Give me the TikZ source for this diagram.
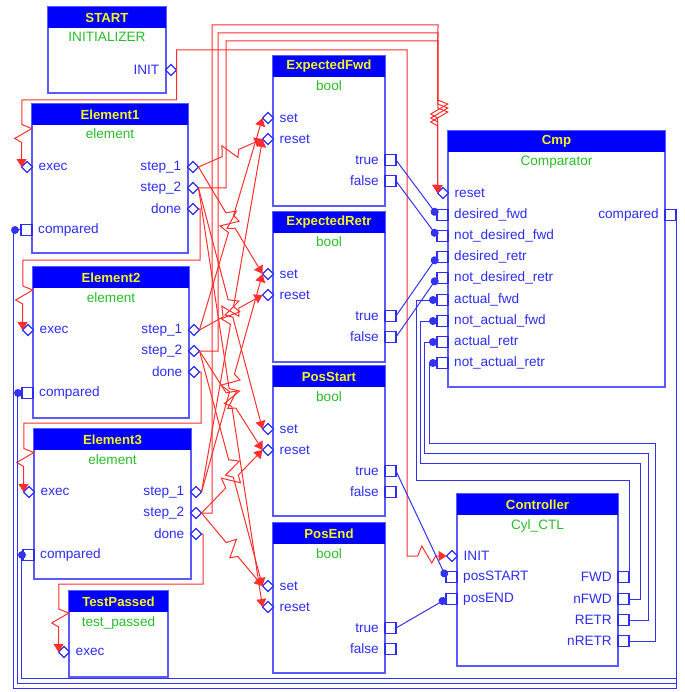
\documentclass[tikz,border=0pt]{standalone}
\usepackage{fontspec}
\setmainfont{Liberation Sans}
\usetikzlibrary{shapes.geometric, arrows.meta, positioning, calc}

\definecolor{hdrblue}{RGB}{0,0,255}
\definecolor{boxblue}{RGB}{90,90,255}
\definecolor{txtblue}{RGB}{45,45,245}
\definecolor{typgreen}{RGB}{40,190,40}
\definecolor{hdryellow}{RGB}{245,245,30}
\definecolor{evred}{RGB}{255,45,45}
\definecolor{wireblue}{RGB}{50,50,240}

\newcommand{\fbfont}{\fontsize{13.6}{15}\selectfont}

\begin{document}
\begin{tikzpicture}[
        x=1pt, y=-1pt,
        fbbody/.style={rectangle, draw=boxblue, line width=1.4pt, fill=white, anchor=north west, inner sep=0pt, outer sep=0pt},
        fbhead/.style={rectangle, fill=hdrblue, anchor=north west, minimum height=21pt, inner sep=0pt, outer sep=0pt, text=hdryellow, font=\fontsize{13.2}{15}\selectfont\bfseries},
        fbtype/.style={text=typgreen, font=\fbfont, inner sep=0pt, anchor=base},
        lbl/.style={text=txtblue, font=\fbfont, inner sep=0pt},
        evport/.style={diamond, draw=txtblue, fill=white, line width=1.2pt, minimum width=11pt, minimum height=11pt, inner sep=0pt, outer sep=0pt},
        dtport/.style={rectangle, draw=txtblue, fill=white, line width=1.2pt, minimum size=11pt, inner sep=0pt, outer sep=0pt},
        ev/.style={draw=evred, line width=1pt, -{Triangle[length=8pt, width=10pt]}},
        dat/.style={draw=wireblue, line width=1pt},
        datin/.style={dat, -{Circle[length=8pt]}},
        bolt/.style={to path={
            -- ($(\tikztostart)!0.5!(\tikztotarget)!9pt!(\tikztostart)$)
            -- ($(\tikztostart)!0.5!(\tikztotarget)!5pt!(\tikztostart)!10pt!-90:(\tikztostart)$)
            -- ($(\tikztostart)!0.5!(\tikztotarget)!5pt!(\tikztotarget)!7pt!-90:(\tikztotarget)$)
            -- ($(\tikztostart)!0.5!(\tikztotarget)!9pt!(\tikztotarget)$)
            -- (\tikztotarget) \tikztonodes}},
    ]
    \useasboundingbox (0,0) rectangle (684,692);

    % START
    \node[fbbody, minimum width=118pt, minimum height=86pt] (st) at (48,7) {};
    \node[fbhead, minimum width=118pt] (sth) at (st.north west) {START};
    \node[fbtype] (stt) at ($(sth.south)+(0,14)$) {INITIALIZER};
    \node[evport] (sInit) at (171,70) {};
    \node[lbl, left=6pt of sInit] (sInitl) {INIT};

    % Element1
    \node[fbbody, minimum width=156pt, minimum height=149pt] (e1) at (32,104) {};
    \node[fbhead, minimum width=156pt] (e1h) at (e1.north west) {Element1};
    \node[fbtype] (e1t) at ($(e1h.south)+(0,14)$) {element};
    \node[evport] (e1x) at (27,167) {};
    \node[evport] (e1s1) at (193,167) {};
    \node[evport] (e1s2) at (193,188) {};
    \node[evport] (e1d) at (193,209) {};
    \node[dtport] (e1c) at (26.5,230) {};
    \node[lbl, right=6pt of e1x] (e1xl) {exec};
    \node[lbl, left=6pt of e1s1] (e1s1l) {step\_1};
    \node[lbl, left=6pt of e1s2] (e1s2l) {step\_2};
    \node[lbl, left=6pt of e1d] (e1dl) {done};
    \node[lbl, right=6pt of e1c] (e1cl) {compared};

    % Element2
    \node[fbbody, minimum width=156pt, minimum height=151pt] (e2) at (33,267) {};
    \node[fbhead, minimum width=156pt] (e2h) at (e2.north west) {Element2};
    \node[fbtype] (e2t) at ($(e2h.south)+(0,14)$) {element};
    \node[evport] (e2x) at (28,330) {};
    \node[evport] (e2s1) at (194,330) {};
    \node[evport] (e2s2) at (194,351) {};
    \node[evport] (e2d) at (194,372) {};
    \node[dtport] (e2c) at (27.5,393) {};
    \node[lbl, right=6pt of e2x] (e2xl) {exec};
    \node[lbl, left=6pt of e2s1] (e2s1l) {step\_1};
    \node[lbl, left=6pt of e2s2] (e2s2l) {step\_2};
    \node[lbl, left=6pt of e2d] (e2dl) {done};
    \node[lbl, right=6pt of e2c] (e2cl) {compared};

    % Element3
    \node[fbbody, minimum width=157pt, minimum height=150pt] (e3) at (34,429) {};
    \node[fbhead, minimum width=157pt] (e3h) at (e3.north west) {Element3};
    \node[fbtype] (e3t) at ($(e3h.south)+(0,14)$) {element};
    \node[evport] (e3x) at (29,492) {};
    \node[evport] (e3s1) at (196,492) {};
    \node[evport] (e3s2) at (196,513) {};
    \node[evport] (e3d) at (196,534) {};
    \node[dtport] (e3c) at (28.5,555) {};
    \node[lbl, right=6pt of e3x] (e3xl) {exec};
    \node[lbl, left=6pt of e3s1] (e3s1l) {step\_1};
    \node[lbl, left=6pt of e3s2] (e3s2l) {step\_2};
    \node[lbl, left=6pt of e3d] (e3dl) {done};
    \node[lbl, right=6pt of e3c] (e3cl) {compared};

    % TestPassed
    \node[fbbody, minimum width=99pt, minimum height=86pt] (tp) at (69,591) {};
    \node[fbhead, minimum width=99pt] (tph) at (tp.north west) {TestPassed};
    \node[fbtype] (tpt) at ($(tph.south)+(0,14)$) {test\_passed};
    \node[evport] (tpx) at (64,652) {};
    \node[lbl, right=6pt of tpx] (tpxl) {exec};

    % ExpectedFwd
    \node[fbbody, minimum width=112pt, minimum height=150pt] (ef) at (273,56) {};
    \node[fbhead, minimum width=112pt] (efh) at (ef.north west) {ExpectedFwd};
    \node[fbtype] (eft) at ($(efh.south)+(0,14)$) {bool};
    \node[evport] (efS) at (268,118) {};
    \node[evport] (efR) at (268,139) {};
    \node[dtport] (efT) at (390.5,160) {};
    \node[dtport] (efF) at (390.5,181) {};
    \node[lbl, right=6pt of efS] (efSl) {set};
    \node[lbl, right=6pt of efR] (efRl) {reset};
    \node[lbl, left=6pt of efT] (efTl) {true};
    \node[lbl, left=6pt of efF] (efFl) {false};

    % ExpectedRetr
    \node[fbbody, minimum width=112pt, minimum height=150pt] (er) at (273,212) {};
    \node[fbhead, minimum width=112pt] (erh) at (er.north west) {ExpectedRetr};
    \node[fbtype] (ert) at ($(erh.south)+(0,14)$) {bool};
    \node[evport] (erS) at (268,274) {};
    \node[evport] (erR) at (268,295) {};
    \node[dtport] (erT) at (390.5,316) {};
    \node[dtport] (erF) at (390.5,337) {};
    \node[lbl, right=6pt of erS] (erSl) {set};
    \node[lbl, right=6pt of erR] (erRl) {reset};
    \node[lbl, left=6pt of erT] (erTl) {true};
    \node[lbl, left=6pt of erF] (erFl) {false};

    % PosStart
    \node[fbbody, minimum width=112pt, minimum height=150pt] (ps) at (273,366) {};
    \node[fbhead, minimum width=112pt] (psh) at (ps.north west) {PosStart};
    \node[fbtype] (pst) at ($(psh.south)+(0,14)$) {bool};
    \node[evport] (psS) at (268,429) {};
    \node[evport] (psR) at (268,450) {};
    \node[dtport] (psT) at (390.5,471) {};
    \node[dtport] (psF) at (390.5,492) {};
    \node[lbl, right=6pt of psS] (psSl) {set};
    \node[lbl, right=6pt of psR] (psRl) {reset};
    \node[lbl, left=6pt of psT] (psTl) {true};
    \node[lbl, left=6pt of psF] (psFl) {false};

    % PosEnd
    \node[fbbody, minimum width=112pt, minimum height=150pt] (pe) at (273,523) {};
    \node[fbhead, minimum width=112pt] (peh) at (pe.north west) {PosEnd};
    \node[fbtype] (pet) at ($(peh.south)+(0,14)$) {bool};
    \node[evport] (peS) at (268,586) {};
    \node[evport] (peR) at (268,607) {};
    \node[dtport] (peT) at (390.5,628) {};
    \node[dtport] (peF) at (390.5,649) {};
    \node[lbl, right=6pt of peS] (peSl) {set};
    \node[lbl, right=6pt of peR] (peRl) {reset};
    \node[lbl, left=6pt of peT] (peTl) {true};
    \node[lbl, left=6pt of peF] (peFl) {false};

    % Cmp
    \node[fbbody, minimum width=217pt, minimum height=256pt] (cm) at (448,131) {};
    \node[fbhead, minimum width=217pt] (cmh) at (cm.north west) {Cmp};
    \node[fbtype] (cmt) at ($(cmh.south)+(0,14)$) {Comparator};
    \node[evport] (cRst) at (443,193) {};
    \node[dtport] (cDF) at (442.5,215) {};
    \node[dtport] (cnDF) at (442.5,236) {};
    \node[dtport] (cDR) at (442.5,257) {};
    \node[dtport] (cnDR) at (442.5,278) {};
    \node[dtport] (cAF) at (442.5,300) {};
    \node[dtport] (cnAF) at (442.5,321) {};
    \node[dtport] (cAR) at (442.5,342) {};
    \node[dtport] (cnAR) at (442.5,363) {};
    \node[dtport] (cCmp) at (670.5,215) {};
    \node[lbl, right=6pt of cRst] (cRstl) {reset};
    \node[lbl, right=6pt of cDF] (cDFl) {desired\_fwd};
    \node[lbl, right=6pt of cnDF] (cnDFl) {not\_desired\_fwd};
    \node[lbl, right=6pt of cDR] (cDRl) {desired\_retr};
    \node[lbl, right=6pt of cnDR] (cnDRl) {not\_desired\_retr};
    \node[lbl, right=6pt of cAF] (cAFl) {actual\_fwd};
    \node[lbl, right=6pt of cnAF] (cnAFl) {not\_actual\_fwd};
    \node[lbl, right=6pt of cAR] (cARl) {actual\_retr};
    \node[lbl, right=6pt of cnAR] (cnARl) {not\_actual\_retr};
    \node[lbl, left=6pt of cCmp] (cCmpl) {compared};

    % Controller
    \node[fbbody, minimum width=161pt, minimum height=172pt] (kt) at (457,494) {};
    \node[fbhead, minimum width=161pt] (kth) at (kt.north west) {Controller};
    \node[fbtype] (ktt) at ($(kth.south)+(0,14)$) {Cyl\_CTL};
    \node[evport] (kInit) at (452,556) {};
    \node[dtport] (kPS) at (451.5,577) {};
    \node[dtport] (kPE) at (451.5,599) {};
    \node[dtport] (kF) at (623.5,577) {};
    \node[dtport] (knF) at (623.5,599) {};
    \node[dtport] (kR) at (623.5,620) {};
    \node[dtport] (knR) at (623.5,641) {};
    \node[lbl, right=6pt of kInit] (kInitl) {INIT};
    \node[lbl, right=6pt of kPS] (kPSl) {posSTART};
    \node[lbl, right=6pt of kPE] (kPEl) {posEND};
    \node[lbl, left=6pt of kF] (kFl) {FWD};
    \node[lbl, left=6pt of knF] (knFl) {nFWD};
    \node[lbl, left=6pt of kR] (kRl) {RETR};
    \node[lbl, left=6pt of knR] (knRl) {nRETR};

    % event connections
    \draw[ev] (sInit.east) |- (22,100) to[bolt] (e1x.west);
    \draw[ev] (sInit.east) |- (407,50) -- (407,556) to[bolt] (kInit.west);
    \draw[ev] (e1d.east) -| (200,260) -- (23,260) to[bolt] (e2x.west);
    \draw[ev] (e2d.east) -| (201,423) -- (24,423) to[bolt] (e3x.west);
    \draw[ev] (e3d.east) -| (203,584) -- (59,584) to[bolt] (tpx.west);
    \draw[ev] (e1s2.east) -| (226,41) -- (438,41) to[bolt] (cRst.west);
    \draw[ev] (e2s2.east) -| (218,33) -- (438,33) to[bolt] (cRst.west);
    \draw[ev] (e3s2.east) -| (212,25) -- (438,25) to[bolt] (cRst.west);
    \draw[ev] (e1s1.east) to[bolt] (efR.west);
    \draw[ev] (e1s1.east) to[bolt] (erS.west);
    \draw[ev] (e1s2.east) to[bolt] (psS.west);
    \draw[ev] (e1s2.east) to[bolt] (peR.west);
    \draw[ev] (e2s1.east) to[bolt] (efS.west);
    \draw[ev] (e2s1.east) to[bolt] (erR.west);
    \draw[ev] (e2s2.east) to[bolt] (psR.west);
    \draw[ev] (e2s2.east) to[bolt] (peS.west);
    \draw[ev] (e3s1.east) to[bolt] (efR.west);
    \draw[ev] (e3s1.east) to[bolt] (erS.west);
    \draw[ev] (e3s2.east) to[bolt] (psR.west);
    \draw[ev] (e3s2.east) to[bolt] (peS.west);

    % data connections
    \draw[datin] (efT.east) -- (cDF.west);
    \draw[datin] (efF.east) -- (cnDF.west);
    \draw[datin] (erT.east) -- (cDR.west);
    \draw[datin] (erF.east) -- (cnDR.west);
    \draw[datin] (psT.east) -- (kPS.west);
    \draw[datin] (peT.east) -- (kPE.west);
    \draw[datin] (kF.east) -- (629,480) -- (416,480) |- (cAF.west);
    \draw[datin] (knF.east) -| (640,463) -- (420,463) |- (cnAF.west);
    \draw[datin] (kR.east) -| (648,453) -- (424,453) |- (cAR.west);
    \draw[datin] (knR.east) -| (655,443) -- (429,443) |- (cnAR.west);
    \draw[dat] (cCmp.east) -| (676,688) -| (13,230) -- (e1c.west);
    \draw[dat] (cCmp.east) -| (676,683) -| (17,393) -- (e2c.west);
    \draw[dat] (cCmp.east) -| (676,678) -| (21,555) -- (e3c.west);
    \fill[wireblue] (15,230) circle (4pt) (18,393) circle (4pt) (22,555) circle (4pt);
\end{tikzpicture}
\end{document}
